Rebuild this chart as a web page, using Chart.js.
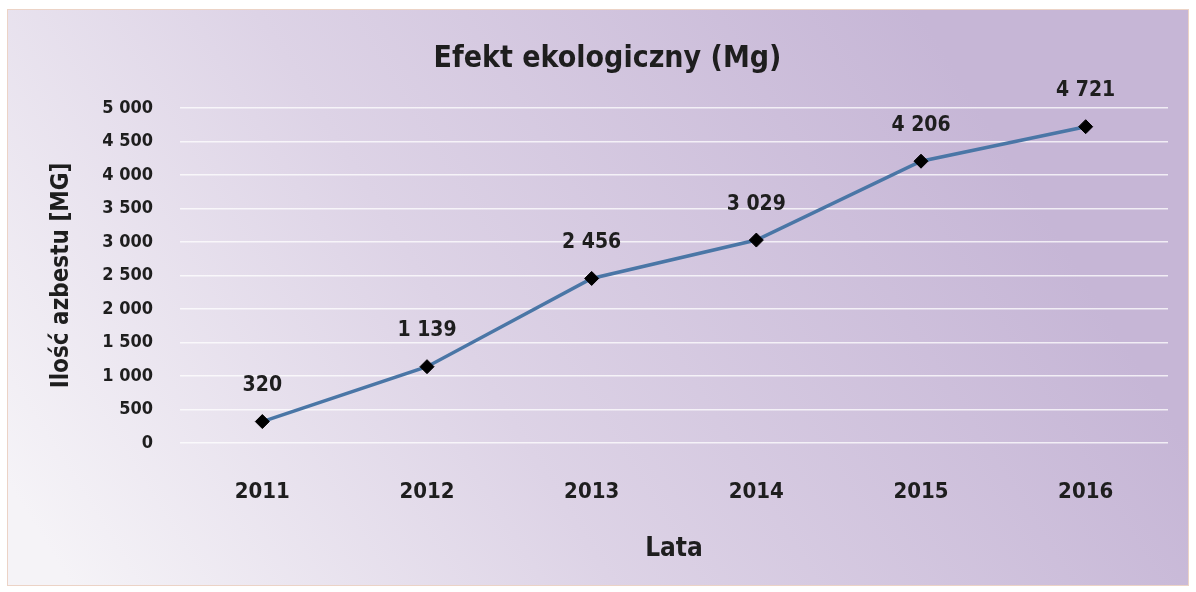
<!DOCTYPE html>
<html>
<head>
<meta charset="utf-8">
<script src="https://cdn.jsdelivr.net/npm/chart.js@4/dist/chart.umd.min.js"></script>
<style>
  html, body { margin: 0; padding: 0; background: #ffffff; }
  #wrap { width: 1196px; height: 592px; position: relative; }
</style>
</head>
<body>
<div id="wrap"><canvas id="ecoChart"></canvas></div>
<script>
/*=========================================
DATA
=========================================*/

const years = ["2011", "2012", "2013", "2014", "2015", "2016"];

const asbestosMg = [320, 1139, 2456, 3029, 4206, 4721];

const chartTitle = "Efekt ekologiczny (Mg)";

const yTitle = "Ilość azbestu [MG]";

const xTitle = "Lata";

const FONT = "'DejaVu Sans Condensed', 'DejaVu Sans', sans-serif";

// "4 721" style numbers
function spaced(v) {
    return String(v).replace(/\B(?=(\d{3})+(?!\d))/g, " ");
}

/*=========================================
BACKGROUND + LABELS PLUGINS
=========================================*/

const backdrop = {
    id: "backdrop",
    beforeDraw(chart) {
        const ctx = chart.ctx;
        ctx.save();
        ctx.fillStyle = "#ffffff";
        ctx.fillRect(0, 0, chart.width, chart.height);
        const g = ctx.createLinearGradient(80, 600, 950, 60);
        g.addColorStop(0, "#f5f3f7");
        g.addColorStop(0.45, "#ddd3e6");
        g.addColorStop(1, "#c6b6d6");
        ctx.fillStyle = g;
        ctx.fillRect(7, 9, 1181, 576);
        ctx.strokeStyle = "#ecd3c6";
        ctx.lineWidth = 1;
        ctx.strokeRect(7.5, 9.5, 1181, 576);
        ctx.restore();
    }
};

const pointLabels = {
    id: "pointLabels",
    afterDatasetsDraw(chart) {
        const ctx = chart.ctx;
        const meta = chart.getDatasetMeta(0);
        ctx.save();
        ctx.font = "bold 21px " + FONT;
        ctx.fillStyle = "#1e1e1e";
        ctx.textAlign = "center";
        ctx.textBaseline = "middle";
        meta.data.forEach((pt, i) => {
            ctx.fillText(spaced(asbestosMg[i]), pt.x, pt.y - 36);
        });
        ctx.restore();
    }
};

/*=========================================
CHART
=========================================*/

new Chart(document.getElementById("ecoChart"), {

    type: "line",

    data: {
        labels: years,
        datasets: [{
            data: asbestosMg,
            borderColor: "#4a76a6",
            borderWidth: 3.5,
            tension: 0,
            pointStyle: "rectRot",
            pointRadius: 7,
            pointHoverRadius: 7,
            pointBackgroundColor: "#000000",
            pointBorderColor: "#000000",
            pointBorderWidth: 1
        }]
    },

    options: {
        responsive: true,
        maintainAspectRatio: false,
        animation: false,
        layout: {
            padding: { top: 0, left: 47, right: 28, bottom: 27 }
        },
        scales: {
            x: {
                offset: true,
                grid: { display: false, drawTicks: false },
                border: { display: false },
                ticks: {
                    padding: 36,
                    color: "#1e1e1e",
                    font: { family: FONT, size: 22, weight: "bold" }
                },
                title: {
                    display: true,
                    text: xTitle,
                    color: "#1e1e1e",
                    padding: 0,
                    font: { family: FONT, size: 26, weight: "bold", lineHeight: 1.2 }
                },
                afterFit(scale) { scale.height = 122; }
            },
            y: {
                min: 0,
                max: 5000,
                grid: {
                    color: "rgba(255,255,255,0.75)",
                    lineWidth: 1.5,
                    drawTicks: false
                },
                border: { display: false },
                ticks: {
                    stepSize: 500,
                    padding: 27,
                    color: "#1e1e1e",
                    font: { family: FONT, size: 18, weight: "bold" },
                    callback: v => spaced(v)
                },
                title: {
                    display: true,
                    text: yTitle,
                    color: "#1e1e1e",
                    padding: 0,
                    font: { family: FONT, size: 24, weight: "bold", lineHeight: 1.2 }
                },
                afterFit(scale) { scale.width = 133; }
            }
        },
        plugins: {
            legend: { display: false },
            tooltip: { enabled: false },
            title: {
                display: true,
                text: chartTitle,
                color: "#1e1e1e",
                padding: { top: 41, bottom: 31 },
                font: { family: FONT, size: 30, weight: "bold", lineHeight: 1.2 }
            }
        }
    },

    plugins: [backdrop, pointLabels]

});
</script>
</body>
</html>
